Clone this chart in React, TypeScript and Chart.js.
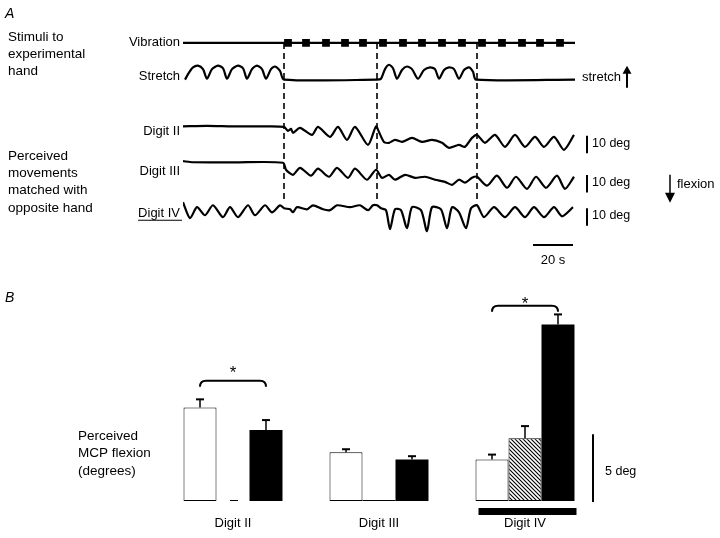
import { useEffect, useRef } from 'react';
import { Chart, registerables } from 'chart.js';

Chart.register(...registerables);

const FONT = '"Liberation Sans", Arial, Helvetica, sans-serif';

// ---------- Panel A data (time in s, values in deg relative to each trace's baseline) ----------
const TIME_END = 196;
const EPOCH_BOUNDS = [50.5, 97, 147];
const TRACE_LABELS = ['Vibration', 'Stretch', 'Digit II', 'Digit III', 'Digit IV'];
const TRACE_OFFSETS = [-24.5, -45.5, -72.5, -93, -119];
const VIBRATION_ON = [52.5, 61.5, 71.5, 81, 90, 100, 110, 119.5, 129.5, 139.5, 149.5, 159.5, 169.5, 178.5, 188.5];
const VIBRATION = [[0, 0], [196, 0]];
const STRETCH = [
  [1, 0], [3, 4], [5, 7], [7.5, 8], [10, 6], [12, 0.5], [14.5, 6], [17.5, 8], [20, 6.5], [22, 0.5],
  [24.5, 6], [27.5, 8], [30, 6.5], [32, 0.5], [34.5, 6], [37, 8], [39.5, 6], [41.5, 0.5], [44, 6],
  [46, 7.5], [48.5, 5], [50.5, 0], [97, 0], [99, 0.5], [101, 6], [103, 8.5], [105, 6.5], [107, 0.5],
  [109.5, 5.5], [112, 7.5], [114.5, 6], [117.5, 0.5], [120.5, 5.5], [123.5, 7], [126, 6], [128, 0.5],
  [130.5, 5.5], [133, 7], [135.5, 6], [138, 0.5], [140.5, 5.5], [143, 7], [145, 4.5], [146.5, 0], [196, 0],
];
const DIGIT_II = [
  [0, 0.3], [12, 0.6], [25, 0.3], [40, 0.3], [50.5, 0],
  [52.5, -2.3], [54, -1.1], [55, -3.4], [58.5, -0.6], [64.5, -4.6], [67.5, 0], [73.5, -5.7], [77.5, 0],
  [82, -7.4], [86, 0], [92.5, -10.3], [96.5, 0.3], [98, -2.9],
  [100.5, -8.6], [103, -9.1], [106, -7.4], [109.5, -8.6], [114.5, -6.3], [119.5, -8.6], [124.5, -7.4],
  [129.5, -9.1], [133, -12], [138, -10.3], [141, -11.4], [144.5, -6.3], [147, -4.6],
  [151, -9.1], [156, -4.6], [161, -11.4], [166, -4.6], [171, -11.4], [176, -5.7], [180.5, -11.4],
  [185.5, -5.7], [190.5, -13.1], [195.5, -4.6],
];
const DIGIT_III = [
  [0, 0.9], [5, 0.3], [25, 0.2], [50, 0],
  [51.5, -4], [55, -6.9], [58.5, -2.9], [64, -7.4], [67.5, -3.4], [73, -8], [77, -2.9], [82.5, -8.6],
  [86, -3.4], [92, -9.7], [96.5, -4],
  [99.5, -8.6], [103, -6.9], [106, -9.7], [111, -6.9], [116, -8.6], [121, -8], [126, -9.7], [131, -10.9],
  [134.5, -12.6], [138, -9.7], [141, -11.4], [144.5, -8.6], [147, -8],
  [152, -13.1], [157, -7.4], [162, -14.3], [166.5, -8], [172, -14.9], [176.5, -8], [181.5, -14.3],
  [187, -7.4], [191, -14.9], [195.5, -8],
];
const DIGIT_IV = [
  [0, 3.4], [3.5, -5.7], [7, 0.6], [11, -4], [15, 1.7], [20, -5.1], [23.5, 0.6], [27.5, -5.1], [32.5, 1.7],
  [36, -4], [41, 1.7], [44.5, -2.3], [48.5, 1.7], [50.5, 0],
  [53.5, -0.6], [55, -2.3], [57, 0.6], [62, -0.6], [65, 1.7], [70, -0.6], [73.5, -1.1], [77, 1.7],
  [83.5, 0.6], [88.5, 1.7], [92.5, -1.1], [95, 1.7], [97, 1.7],
  [99, 0], [101.5, -1.1], [103.5, -12], [106, -0.6], [109, -1.1], [112, -11.4], [114.5, 0.6], [119, -1.1],
  [122, -13.1], [124.5, 0.6], [129, -0.6], [132, -11.4], [134.5, 0.6], [138, -2.3], [141.5, -11.4],
  [144, 0], [147, 1.7],
  [150.5, -5.1], [155.5, 0.6], [161, -5.1], [166, 0.6], [171, -5.1], [175.5, 0.6], [180.5, -5.1],
  [185.5, 0.6], [189.5, -4.6], [195, 0.6],
];
const TRACES = [VIBRATION, STRETCH, DIGIT_II, DIGIT_III, DIGIT_IV];

// ---------- Panel B data (perceived MCP flexion, degrees) ----------
const DIGITS = ['Digit II', 'Digit III', 'Digit IV'];
const BAR_WHITE = [7.0, 3.65, 3.1];
const ERR_WHITE = [0.6, 0.22, 0.37];
const BAR_HATCH = [0, 0, 4.7];
const ERR_HATCH = [0, 0, 0.9];
const BAR_BLACK = [5.3, 3.1, 13.2];
const ERR_BLACK = [0.75, 0.25, 0.75];
const SIG_GROUPS = [0, 2];
const SIG_LEVELS = [9.0, 14.6];
const SIG_STAR_LEVELS = [9.9, 15.1];

function txt(ctx: CanvasRenderingContext2D, s: string, x: number, y: number, align: CanvasTextAlign = 'left', size = 13, style = '') {
  ctx.font = `${style} ${size}px ${FONT}`;
  ctx.textAlign = align;
  ctx.textBaseline = 'middle';
  ctx.fillStyle = '#000';
  ctx.fillText(s, x, y);
}

function line(ctx: CanvasRenderingContext2D, x1: number, y1: number, x2: number, y2: number) {
  ctx.beginPath();
  ctx.moveTo(x1, y1);
  ctx.lineTo(x2, y2);
  ctx.stroke();
}

const panelAPlugin = {
  id: 'panelA',
  beforeDatasetsDraw(chart: any) {
    const { ctx, scales: { x, y } } = chart;
    ctx.save();
    ctx.strokeStyle = '#000';
    ctx.lineWidth = 1.6;
    ctx.setLineDash([6, 4]);
    for (const t of EPOCH_BOUNDS) {
      const X = x.getPixelForValue(t);
      line(ctx, X, y.getPixelForValue(TRACE_OFFSETS[0]), X, y.getPixelForValue(TRACE_OFFSETS[4]) - 6);
    }
    ctx.restore();
  },
  afterDraw(chart: any) {
    const { ctx, scales: { x, y }, chartArea } = chart;
    ctx.save();
    ctx.strokeStyle = '#000';
    ctx.fillStyle = '#000';
    txt(ctx, 'A', 5, 14, 'left', 14, 'italic');
    ['Stimuli to', 'experimental', 'hand'].forEach((s, i) => txt(ctx, s, 8, 37 + i * 17, 'left', 13.5));
    ['Perceived', 'movements', 'matched with', 'opposite hand'].forEach((s, i) => txt(ctx, s, 8, 156 + i * 17.3, 'left', 13.5));
    const shifts = [0, -3, 4.5, 9, 5];
    const lx = chartArea.left - 3;
    TRACE_LABELS.forEach((s, i) => {
      const yy = y.getPixelForValue(TRACE_OFFSETS[i]) + shifts[i];
      txt(ctx, s, lx, yy, 'right', 13);
      if (s === 'Digit IV') {
        const w = ctx.measureText(s).width;
        ctx.lineWidth = 1.2;
        line(ctx, lx - w, yy + 7, lx + 2, yy + 7);
      }
    });
    // right-side annotations
    const rx = chartArea.right;
    const sy = y.getPixelForValue(TRACE_OFFSETS[1]);
    txt(ctx, 'stretch', rx + 7, sy - 2, 'left', 13);
    ctx.lineWidth = 2;
    line(ctx, rx + 52, sy + 8, rx + 52, sy - 8);
    ctx.beginPath();
    ctx.moveTo(rx + 52, sy - 14); ctx.lineTo(rx + 47.5, sy - 6); ctx.lineTo(rx + 56.5, sy - 6); ctx.closePath(); ctx.fill();
    // 10 deg bars
    const barTops = [-5, -7, 0];
    [2, 3, 4].forEach((ti, k) => {
      const y1 = y.getPixelForValue(TRACE_OFFSETS[ti] + barTops[k]);
      const y2 = y.getPixelForValue(TRACE_OFFSETS[ti] + barTops[k] - 10);
      ctx.lineWidth = 2;
      line(ctx, rx + 12, y1, rx + 12, y2);
      txt(ctx, '10 deg', rx + 17, (y1 + y2) / 2 - 1, 'left', 12.5);
    });
    // flexion arrow
    const fy = y.getPixelForValue(TRACE_OFFSETS[3]);
    ctx.lineWidth = 1.5;
    line(ctx, rx + 95, fy + 12, rx + 95, fy + 32);
    ctx.beginPath();
    ctx.moveTo(rx + 95, fy + 40); ctx.lineTo(rx + 90, fy + 30); ctx.lineTo(rx + 100, fy + 30); ctx.closePath(); ctx.fill();
    txt(ctx, 'flexion', rx + 102, fy + 22, 'left', 13);
    // 20 s time bar
    const ty = y.getPixelForValue(-140);
    ctx.lineWidth = 2;
    line(ctx, x.getPixelForValue(175), ty, x.getPixelForValue(195), ty);
    txt(ctx, '20 s', x.getPixelForValue(185), ty + 15, 'center', 13);
    ctx.restore();
  },
};

const ERRS = [ERR_WHITE, ERR_HATCH, ERR_BLACK];
const VALS = [BAR_WHITE, BAR_HATCH, BAR_BLACK];

const panelBPlugin = {
  id: 'panelB',
  afterDatasetsDraw(chart: any) {
    const { ctx, scales: { y }, chartArea } = chart;
    ctx.save();
    ctx.strokeStyle = '#000';
    ctx.fillStyle = '#000';
    // zero-height bars leave a short mark on the baseline
    const hm = chart.getDatasetMeta(1);
    ctx.lineWidth = 1;
    BAR_HATCH.forEach((v, j) => {
      if (v !== 0) return;
      const el = hm.data[j];
      const y0 = y.getPixelForValue(0) - 0.5;
      if (j === 0) line(ctx, el.x - 3, y0, el.x + 5, y0);
      else line(ctx, el.x - el.width / 2, y0, el.x + el.width / 2, y0);
    });
    // error bars
    ctx.lineWidth = 1.5;
    VALS.forEach((vals, d) => {
      const meta = chart.getDatasetMeta(d);
      vals.forEach((v, j) => {
        const e = ERRS[d][j];
        if (!e) return;
        const el = meta.data[j];
        const yt = y.getPixelForValue(v + e);
        line(ctx, el.x, y.getPixelForValue(v), el.x, yt);
        ctx.lineWidth = 2;
        line(ctx, el.x - 4, yt, el.x + 4, yt);
        ctx.lineWidth = 1.5;
      });
    });
    // significance brackets
    SIG_GROUPS.forEach((g, k) => {
      const x1 = chart.getDatasetMeta(0).data[g].x;
      const x2 = chart.getDatasetMeta(2).data[g].x;
      const yy = y.getPixelForValue(SIG_LEVELS[k]);
      ctx.lineWidth = 2;
      ctx.beginPath();
      ctx.moveTo(x1, yy + 6);
      ctx.quadraticCurveTo(x1, yy, x1 + 6, yy);
      ctx.lineTo(x2 - 6, yy);
      ctx.quadraticCurveTo(x2, yy, x2, yy + 6);
      ctx.stroke();
      ctx.font = `17px ${FONT}`;
      ctx.textAlign = 'center';
      ctx.textBaseline = 'alphabetic';
      ctx.fillText('*', (x1 + x2) / 2, y.getPixelForValue(SIG_STAR_LEVELS[k]) + 9.5);
    });
    // group bar under Digit IV
    const w4 = chart.getDatasetMeta(0).data[2];
    const b4 = chart.getDatasetMeta(2).data[2];
    ctx.fillRect(w4.x - w4.width / 2 + 3, chartArea.bottom + 7, (b4.x + b4.width / 2 + 2) - (w4.x - w4.width / 2 + 3), 7);
    // 5 deg scale bar
    ctx.lineWidth = 2;
    line(ctx, chartArea.right - 5, y.getPixelForValue(0) + 1, chartArea.right - 5, y.getPixelForValue(5));
    txt(ctx, '5 deg', chartArea.right + 7, y.getPixelForValue(2.2), 'left', 12.5);
    // labels
    txt(ctx, 'B', 5, 18, 'left', 14, 'italic');
    ['Perceived', 'MCP flexion', '(degrees)'].forEach((s, i) => txt(ctx, s, 78, 156 + i * 17.5, 'left', 13.5));
    ctx.restore();
  },
};

export default function App() {
  const refA = useRef<HTMLCanvasElement>(null);
  const refB = useRef<HTMLCanvasElement>(null);

  useEffect(() => {
    const traceSets: any[] = TRACES.map((tr, i) => ({
      label: TRACE_LABELS[i],
      data: tr.map(([t, v]) => ({ x: t, y: v + TRACE_OFFSETS[i] })),
      borderColor: '#000',
      borderWidth: 2.2,
      pointRadius: 0,
      tension: i === 0 ? 0 : 0.25,
      fill: false,
    }));
    traceSets.push({
      label: 'Vibration on',
      data: VIBRATION_ON.map((t) => ({ x: t, y: TRACE_OFFSETS[0] })),
      showLine: false,
      pointStyle: 'rect',
      pointRadius: 5.5,
      pointBackgroundColor: '#000',
      pointBorderWidth: 0,
      borderColor: '#000',
    });
    const chartA = new Chart(refA.current!, {
      type: 'line',
      data: { datasets: traceSets },
      options: {
        responsive: false,
        animation: false,
        events: [],
        layout: { autoPadding: false, padding: { left: 183, right: 145, top: 0, bottom: 0 } },
        scales: {
          x: { type: 'linear', min: 0, max: TIME_END, display: false },
          y: { type: 'linear', min: -160, max: 0, display: false },
        },
        plugins: { legend: { display: false }, tooltip: { enabled: false } },
      },
      plugins: [panelAPlugin],
    } as any);

    const tile = document.createElement('canvas');
    tile.width = 4;
    tile.height = 4;
    const g = tile.getContext('2d')!;
    g.fillStyle = '#fff';
    g.fillRect(0, 0, 4, 4);
    g.strokeStyle = '#000';
    g.lineWidth = 1.1;
    g.beginPath();
    g.moveTo(-1, -1); g.lineTo(5, 5);
    g.moveTo(-1, 3); g.lineTo(1, 5);
    g.moveTo(3, -1); g.lineTo(5, 1);
    g.stroke();
    const hatch = refB.current!.getContext('2d')!.createPattern(tile, 'repeat');

    const chartB = new Chart(refB.current!, {
      type: 'bar',
      data: {
        labels: DIGITS,
        datasets: [
          { label: 'Condition 1', data: BAR_WHITE, backgroundColor: '#fff', borderColor: '#000', borderWidth: 1, borderSkipped: false },
          { label: 'Condition 2', data: BAR_HATCH, backgroundColor: hatch, borderColor: '#000', borderWidth: 1, borderSkipped: false },
          { label: 'Condition 3', data: BAR_BLACK, backgroundColor: '#000', borderColor: '#000', borderWidth: 0 },
        ],
      },
      options: {
        responsive: false,
        animation: false,
        events: [],
        layout: { autoPadding: false, padding: { left: 160, right: 122, top: 7, bottom: 0 } },
        datasets: { bar: { categoryPercentage: 0.678, barPercentage: 1 } },
        scales: {
          x: {
            grid: { display: false, drawTicks: false },
            border: { display: false },
            ticks: { color: '#000', font: { family: FONT, size: 13 }, padding: 15 },
            afterFit: (s: any) => { s.height = 37; },
          },
          y: { display: false, min: 0, max: 16 },
        },
        plugins: { legend: { display: false }, tooltip: { enabled: false } },
      },
      plugins: [panelBPlugin],
    } as any);

    return () => {
      chartA.destroy();
      chartB.destroy();
    };
  }, []);

  return (
    <div style={{ position: 'fixed', left: 0, top: 0, width: 720, height: 538, background: '#fff', overflow: 'hidden' }}>
      <canvas ref={refA} width={720} height={280} style={{ position: 'absolute', left: 0, top: 0 }} />
      <canvas ref={refB} width={720} height={258} style={{ position: 'absolute', left: 0, top: 280 }} />
    </div>
  );
}
